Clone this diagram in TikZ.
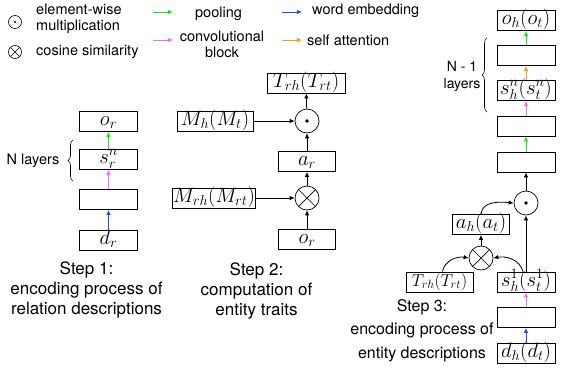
\documentclass[tikz,border=0pt]{standalone}
\usepackage[no-math]{fontspec}
\setmainfont{TeX Gyre Heros}
\usetikzlibrary{arrows.meta,decorations.pathreplacing}
\definecolor{cgreen}{RGB}{30,230,30}
\definecolor{cpink}{RGB}{255,100,255}
\definecolor{cblue}{RGB}{30,70,255}
\definecolor{corange}{RGB}{255,150,30}
\begin{document}
\begin{tikzpicture}[x=1pt,y=-1pt,
  box/.style={draw, line width=0.8pt, minimum width=58pt, minimum height=20pt, inner sep=1pt,
    text height=13pt, text depth=5pt, font=\fontsize{20}{24}\selectfont},
  boxb/.style={box, font=\fontsize{21}{25}\selectfont},
  boxs/.style={box, font=\fontsize{17.5}{21}\selectfont, text height=12pt, text depth=4pt},
  op/.style={draw, circle, line width=0.7pt, minimum size=24pt, inner sep=0pt},
  arr/.style={-{Latex[length=5pt,width=4.5pt]}, line width=0.8pt},
  lbl/.style={font=\fontsize{14.5}{16.5}\selectfont, inner sep=0pt},
  steptxt/.style={font=\fontsize{17}{20}\selectfont, align=center, inner sep=0pt},
  brc/.style={decorate, decoration={brace, amplitude=5pt}, line width=0.6pt}]
\useasboundingbox (0,0) rectangle (561,370);

% ---------- legend ----------
\node[op, minimum size=13pt, line width=0.6pt] (lgdot) at (15,22) {};
\fill (lgdot) circle (1.2pt);
\node[op, minimum size=13pt, line width=0.6pt] (lgot) at (15,52) {};
\draw[line width=0.6pt] (lgot.45) -- (lgot.225) (lgot.135) -- (lgot.315);
\node[lbl, anchor=west, align=left] (lgdottxt) at (36,19) {element-wise\\multiplication};
\node[lbl, anchor=west] (lgottxt) at (36,52) {cosine similarity};
\coordinate (pa) at (153,12); \coordinate (pb) at (173,12);
\draw[arr, cgreen] (pa) -- (pb);
\coordinate (ca) at (153,40); \coordinate (cb) at (173,40);
\draw[arr, cpink] (ca) -- (cb);
\coordinate (wa) at (282,12); \coordinate (wb) at (302,12);
\draw[arr, cblue] (wa) -- (wb);
\coordinate (sa) at (282,40); \coordinate (sb) at (302,40);
\draw[arr, corange] (sa) -- (sb);
\node[lbl] (pooltxt) at (218.5,14) {pooling};
\node[lbl, align=center] (convtxt) at (222,44.5) {convolutional\\block};
\node[lbl, anchor=west] (wetxt) at (312,11) {word embedding};
\node[lbl, anchor=west] (satxt) at (307,40) {self attention};

% ---------- step 1 ----------
\node[boxb] (or1) at (108.5,121.5) {$o_r$};
\node[boxb] (sr) at (108.5,159.5) {$s_r^n$};
\node[boxb] (e1) at (108.5,199.5) {};
\node[boxb] (dr) at (108.5,240) {$d_r$};
\draw[arr, cblue] (dr) -- (e1);
\draw[arr, cpink] (e1) -- (sr);
\draw[arr, cgreen] (sr) -- (or1);
\coordinate (b1a) at (73,181); \coordinate (b1b) at (73,140);
\draw[brc] (b1a) -- (b1b);
\node[lbl] (nlay) at (33,161) {N layers};
\node[steptxt] (st1) at (86.5,290) {Step 1:\\encoding process of\\relation descriptions};

% ---------- step 2 ----------
\node[box, minimum width=78pt] (trh2) at (306,83) {$T_{rh}(T_{rt})$};
\node[op] (dot2) at (307,121) {};
\fill (dot2) circle (1.8pt);
\node[box, minimum width=76pt] (mh) at (215,121) {$M_h(M_t)$};
\node[boxb, minimum width=57pt] (ar) at (307,161.5) {$a_r$};
\node[op] (ot2) at (307,198) {};
\draw[line width=0.7pt] (ot2.45) -- (ot2.225) (ot2.135) -- (ot2.315);
\node[box, minimum width=78pt] (mrh) at (214,198) {$M_{rh}(M_{rt})$};
\node[boxb, minimum width=57pt] (or2) at (307,239) {$o_r$};
\draw[arr] (or2) -- (ot2);
\draw[arr] (mrh) -- (ot2);
\draw[arr] (ot2) -- (ar);
\draw[arr] (ar) -- (dot2);
\draw[arr] (mh) -- (dot2);
\draw[arr] (dot2) -- (trh2);
\node[steptxt] (st2) at (256.5,290.5) {Step 2:\\computation of\\entity traits};

% ---------- step 3 ----------
\node[box] (oh) at (526,20.5) {$o_h(o_t)$};
\node[box] (e3a) at (526,55.5) {};
\node[box] (shn) at (526,90.5) {$s_h^n(s_t^n)$};
\node[box] (e3b) at (526,126) {};
\node[box] (e3c) at (526,162) {};
\node[op] (dot3) at (526,203) {};
\fill (dot3) circle (1.8pt);
\node[box, minimum width=57pt] (ah) at (481,224.5) {$a_h(a_t)$};
\node[op] (ot3) at (481,258) {};
\draw[line width=0.7pt] (ot3.45) -- (ot3.225) (ot3.135) -- (ot3.315);
\node[boxs, minimum width=67pt] (trh3) at (439.5,282) {$T_{rh}(T_{rt})$};
\node[box] (sh1) at (526,282) {$s_h^1(s_t^1)$};
\node[box] (e3d) at (526,317.5) {};
\node[box] (dh) at (526,353) {$d_h(d_t)$};
\draw[arr, cblue] (dh) -- (e3d);
\draw[arr, cpink] (e3d) -- (sh1);
\draw[arr] (sh1) -- (dot3);
\draw[arr] ([xshift=-3pt]sh1.north) to[out=105, in=10] (ot3.east);
\draw[arr] ([xshift=3pt]trh3.north) to[out=80, in=170] (ot3.west);
\draw[arr] (ot3) -- (ah);
\draw[arr] (ah.north) to[out=85, in=175] (dot3.west);
\draw[arr] (dot3) -- (e3c);
\draw[arr, cgreen] (e3c) -- (e3b);
\draw[arr, cpink] (e3b) -- (shn);
\draw[arr, corange] (shn) -- (e3a);
\draw[arr, cgreen] (e3a) -- (oh);
\coordinate (b3a) at (487,112); \coordinate (b3b) at (487,38);
\draw[brc] (b3a) -- (b3b);
\node[lbl, align=center, font=\fontsize{14}{17}\selectfont] (nlay3) at (462,76.5) {N - 1\\layers};
\node[steptxt, font=\fontsize{16}{23.5}\selectfont] (st3) at (422,330.5) {Step 3:\\encoding process of\\entity descriptions};
\end{tikzpicture}
\end{document}
